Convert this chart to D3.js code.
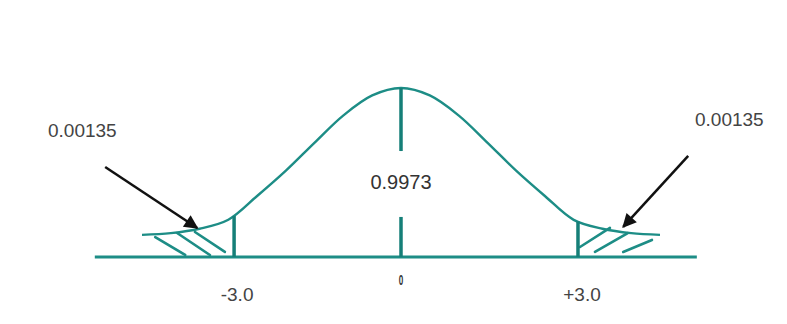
<!DOCTYPE html>
<html>
<head>
<meta charset="utf-8">
<script src="https://cdn.jsdelivr.net/npm/d3@7"></script>
<style>
  html, body { margin: 0; padding: 0; background: #fff; }
  svg { display: block; }
</style>
</head>
<body>
<script>
// curve: position in sigma units, height relative to the peak
const curveZ = [-4.5, -4.0, -3.5, -3.0, -2.5, -2.0, -1.5, -1.0, -0.5, 0, 0.5, 1.0, 1.5, 2.0, 2.5, 3.0, 3.5, 4.0, 4.5];
const curveH = [0.131, 0.141, 0.167, 0.220, 0.361, 0.511, 0.677, 0.838, 0.956, 1.0, 0.956, 0.838, 0.677, 0.511, 0.361, 0.220, 0.167, 0.141, 0.131];

// limit lines (-3 / +3) and their top heights
const limitZ = [-2.9, 3.075];
const limitTop = [0.243, 0.210];
const limitLabels = ["-3.0", "+3.0"];

// center line, broken for the label
const centerSegments = [[0.627, 1.0], [0, 0.237]];
const centerLabel = "0.9973";
const zeroLabel = "0";

// tail probabilities
const tailLabels = ["0.00135", "0.00135"];

// hatching in the tails: [z1, h1, z2, h2]
const hatchLeft = [[-4.27, 0.118, -3.75, 0.012], [-3.89, 0.142, -3.32, 0.012], [-3.58, 0.148, -3.06, 0.030]];
const hatchRight = [[3.11, 0.059, 3.63, 0.172], [3.37, 0.030, 3.94, 0.142], [3.86, 0.030, 4.36, 0.101]];

// arrows: [z from, h from, z to, h to]
const arrows = [[-5.14, 0.533, -3.54, 0.172], [4.99, 0.598, 3.86, 0.178]];

const axisExtent = [-5.32, 5.14];

const width = 787, height = 324;
const teal = "#1d8d86", tealDark = "#157f78";

const x = d3.scaleLinear().domain([-4.5, 4.5]).range([142, 660]);
const y = d3.scaleLinear().domain([0, 1]).range([257, 88]);

const svg = d3.select("body").append("svg")
  .attr("width", width)
  .attr("height", height)
  .attr("font-family", "Liberation Sans, Arial, sans-serif");

svg.append("defs").append("marker")
  .attr("id", "head")
  .attr("viewBox", "0 0 10 10")
  .attr("refX", 9)
  .attr("refY", 5)
  .attr("markerUnits", "userSpaceOnUse")
  .attr("markerWidth", 16)
  .attr("markerHeight", 14)
  .attr("orient", "auto")
  .append("path")
  .attr("d", "M0,0L10,5L0,10Z")
  .attr("fill", "#111");

// baseline
svg.append("line")
  .attr("x1", x(axisExtent[0])).attr("x2", x(axisExtent[1]))
  .attr("y1", y(0)).attr("y2", y(0))
  .attr("stroke", teal).attr("stroke-width", 3);

// the curve
const pts = curveZ.map((z, i) => [z, curveH[i]]);
svg.append("path")
  .datum(pts)
  .attr("fill", "none")
  .attr("stroke", teal)
  .attr("stroke-width", 2.4)
  .attr("d", d3.line().x(d => x(d[0])).y(d => y(d[1])).curve(d3.curveCatmullRom));

// hatching
svg.append("g")
  .attr("stroke", teal).attr("stroke-width", 2.6).attr("stroke-linecap", "round")
  .selectAll("line")
  .data(hatchLeft.concat(hatchRight))
  .join("line")
  .attr("x1", d => x(d[0])).attr("y1", d => y(d[1]))
  .attr("x2", d => x(d[2])).attr("y2", d => y(d[3]));

// limit lines
svg.append("g")
  .attr("stroke", tealDark).attr("stroke-width", 3.5)
  .selectAll("line")
  .data(limitZ)
  .join("line")
  .attr("x1", d => x(d)).attr("x2", d => x(d))
  .attr("y1", y(0)).attr("y2", (d, i) => y(limitTop[i]));

// center line
svg.append("g")
  .attr("stroke", tealDark).attr("stroke-width", 3.5)
  .selectAll("line")
  .data(centerSegments)
  .join("line")
  .attr("x1", x(0)).attr("x2", x(0))
  .attr("y1", d => y(d[0])).attr("y2", d => y(d[1]));

// arrows
svg.append("g")
  .attr("stroke", "#111").attr("stroke-width", 2.5)
  .selectAll("line")
  .data(arrows)
  .join("line")
  .attr("x1", d => x(d[0])).attr("y1", d => y(d[1]))
  .attr("x2", d => x(d[2])).attr("y2", d => y(d[3]))
  .attr("marker-end", "url(#head)");

// texts
svg.append("text")
  .attr("x", x(0)).attr("y", 189)
  .attr("text-anchor", "middle")
  .attr("font-size", 20).attr("fill", "#333")
  .text(centerLabel);

svg.append("text")
  .attr("transform", `translate(${x(0)},285) scale(0.9,1.6)`)
  .attr("text-anchor", "middle")
  .attr("font-size", 9).attr("font-weight", "bold").attr("fill", "#333")
  .text(zeroLabel);

svg.append("g")
  .selectAll("text")
  .data(limitLabels)
  .join("text")
  .attr("x", (d, i) => x(limitZ[i]) + (i ? 4 : 3))
  .attr("y", 301)
  .attr("text-anchor", "middle")
  .attr("font-size", 19).attr("fill", "#444")
  .text(d => d);

svg.append("text")
  .attr("x", 48).attr("y", 137)
  .attr("font-size", 19).attr("fill", "#444")
  .text(tailLabels[0]);

svg.append("text")
  .attr("x", 695).attr("y", 126)
  .attr("font-size", 19).attr("fill", "#444")
  .text(tailLabels[1]);
</script>
</body>
</html>
